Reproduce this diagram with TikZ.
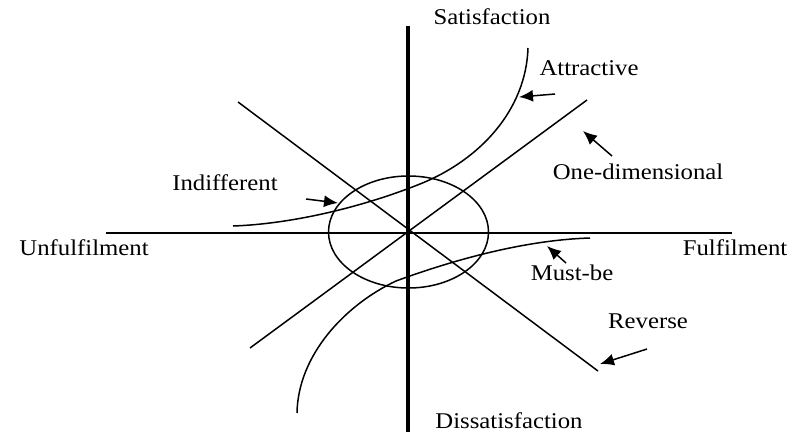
\documentclass[tikz,border=0pt]{standalone}
\usepackage{fontspec}
\setmainfont{Liberation Serif}[FakeStretch=1.1]
\usetikzlibrary{arrows.meta}
\begin{document}
\begin{tikzpicture}[x=1pt,y=-1pt,
  thinline/.style={line width=1.5pt, black},
  axisbold/.style={line width=4pt, black},
  lbl/.style={font=\fontsize{22.5}{26}\selectfont, inner sep=0pt, anchor=center},
  ptr/.style={line width=1.5pt, -{Latex[length=14pt,width=12pt]}}]
\useasboundingbox (0,0) rectangle (791,434);
% axes
\coordinate (vt) at (408,26);
\coordinate (vb) at (408,432);
\coordinate (hl) at (106,233);
\coordinate (hr) at (732,233);
\draw[axisbold] (vt) -- (vb);
\draw[thinline] (hl) -- (hr);
% ellipse
\draw[thinline] (408.5,232) ellipse [x radius=80, y radius=56];
% diagonal lines
\coordinate (r1) at (238,102);
\coordinate (r2) at (598,371);
\draw[thinline] (r1) -- (r2);
\coordinate (o1) at (250,348);
\coordinate (o2) at (587,100);
\draw[thinline] (o1) -- (o2);
% attractive curve
\draw[thinline] (528,48) .. controls (526,110) and (480,160) .. (420,184)
  .. controls (360,208) and (290,224) .. (233,226);
% must-be curve
\draw[thinline] (297,413) .. controls (298,355) and (345,305) .. (396,281)
  .. controls (456,259) and (526,240) .. (590,238);
% labels
\node[lbl] (sat) at (492,17) {Satisfaction};
\node[lbl] (dis) at (509,421) {Dissatisfaction};
\node[lbl] (unf) at (84,248) {Unfulfilment};
\node[lbl] (ful) at (735,248) {Fulfilment};
\node[lbl] (att) at (589,68) {Attractive};
\node[lbl] (one) at (638,172) {One-dimensional};
\node[lbl] (ind) at (225,183) {Indifferent};
\node[lbl] (mus) at (572,273) {Must-be};
\node[lbl] (rev) at (648,321) {Reverse};
% pointers
\coordinate (aT) at (555,94);
\coordinate (aH) at (519,97);
\draw[ptr] (aT) -- (aH);
\coordinate (oT) at (612,156);
\coordinate (oH) at (583,131);
\draw[ptr] (oT) -- (oH);
\coordinate (iT) at (306,199);
\coordinate (iH) at (338,203);
\draw[ptr] (iT) -- (iH);
\coordinate (mT) at (566,263);
\coordinate (mH) at (547,246);
\draw[ptr] (mT) -- (mH);
\coordinate (rT) at (647,349);
\coordinate (rH) at (600,364);
\draw[ptr] (rT) -- (rH);
\end{tikzpicture}
\end{document}
